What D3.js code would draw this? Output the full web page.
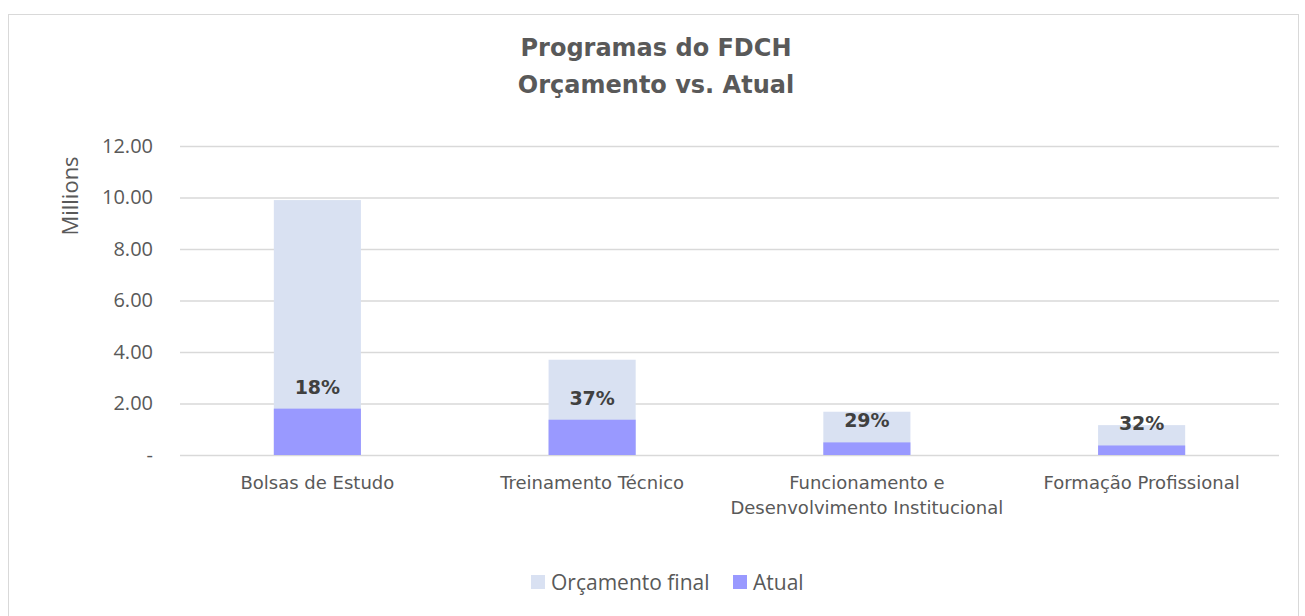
<!DOCTYPE html>
<html>
<head>
<meta charset="utf-8">
<script src="https://cdn.jsdelivr.net/npm/d3@7"></script>
<style>
  body { margin: 0; background: #fff; }
  text { fill: #595959; }
</style>
</head>
<body>
<div class="chart"></div>
<script>
// data (millions)
const categories = ["Bolsas de Estudo", "Treinamento Técnico", "Funcionamento e\nDesenvolvimento Institucional", "Formação Profissional"];
const orcamentoFinal = [9.90, 3.70, 1.68, 1.16];
const atual = [1.80, 1.37, 0.49, 0.37];
const yTicks = [0, 2, 4, 6, 8, 10, 12];
const seriesNames = ["Orçamento final", "Atual"];
const colors = ["#D9E1F2", "#9999FF"];

const W = 1305, H = 616;
const margin = {top: 146, right: 26, bottom: 161, left: 180};
const width = W - margin.left - margin.right,
      height = H - margin.top - margin.bottom;

const svg = d3.select(".chart").append("svg")
    .attr("width", W)
    .attr("height", H);

// chart frame
svg.append("rect")
    .attr("x", 8.5).attr("y", 14.5)
    .attr("width", 1290).attr("height", 610)
    .attr("fill", "none").attr("stroke", "#D9D9D9");

// title
const title = svg.append("text")
    .attr("text-anchor", "middle")
    .style("font-family", "'DejaVu Sans', sans-serif")
    .style("font-weight", "bold")
    .style("font-size", "24px");
title.append("tspan").attr("x", 656).attr("y", 56).text("Programas do FDCH");
title.append("tspan").attr("x", 656).attr("y", 93).text("Orçamento vs. Atual");

const g = svg.append("g")
    .attr("transform", "translate(" + margin.left + "," + margin.top + ")");

const x = d3.scaleBand()
    .domain(categories)
    .range([0, width])
    .paddingInner(0.683)
    .paddingOuter(0.3415);

const y = d3.scaleLinear()
    .domain([0, 12])
    .range([height, 0]);

// gridlines + y labels
const yAxis = g.append("g")
    .call(d3.axisLeft(y).tickValues(yTicks).tickSize(-width)
      .tickFormat(d => d === 0 ? "-" : d3.format(".2f")(d)));
yAxis.select(".domain").remove();
yAxis.selectAll(".tick line").attr("stroke", "#D9D9D9").attr("stroke-width", 1.3);
yAxis.selectAll(".tick text")
    .attr("x", -27)
    .style("font-family", "'Open Sans', 'Liberation Sans', sans-serif")
    .style("font-size", "20px")
    .style("fill", "#595959");

// axis title
svg.append("text")
    .attr("transform", "translate(78,196) rotate(-90)")
    .attr("text-anchor", "middle")
    .style("font-family", "'Open Sans', 'Liberation Sans', sans-serif")
    .style("font-size", "22px")
    .text("Millions");

// bars (overlapping)
g.selectAll(".orc")
    .data(orcamentoFinal)
    .enter()
    .append("rect")
      .attr("x", (d, i) => x(categories[i]))
      .attr("y", d => y(d))
      .attr("width", x.bandwidth())
      .attr("height", d => height - y(d))
      .style("fill", colors[0]);

g.selectAll(".atual")
    .data(atual)
    .enter()
    .append("rect")
      .attr("x", (d, i) => x(categories[i]))
      .attr("y", d => y(d))
      .attr("width", x.bandwidth())
      .attr("height", d => height - y(d))
      .style("fill", colors[1]);

// percentage labels
g.selectAll(".pct")
    .data(atual)
    .enter()
    .append("text")
      .attr("x", (d, i) => x(categories[i]) + x.bandwidth() / 2)
      .attr("y", d => y(d) - 15)
      .attr("text-anchor", "middle")
      .style("font-family", "'DejaVu Sans', sans-serif")
      .style("font-weight", "bold")
      .style("font-size", "19px")
      .style("fill", "#404040")
      .text((d, i) => d3.format(".0%")(d / orcamentoFinal[i]));

// x labels
categories.forEach(function(c) {
  const lines = c.split("\n");
  const t = g.append("text")
      .attr("text-anchor", "middle")
      .style("font-family", "'DejaVu Sans', sans-serif")
      .style("font-size", "18px");
  lines.forEach(function(l, j) {
    t.append("tspan")
      .attr("x", x(c) + x.bandwidth() / 2)
      .attr("y", height + 34 + j * 25)
      .text(l);
  });
});

// legend
const legend = svg.append("g");
const legX = [531, 733];
seriesNames.forEach(function(s, i) {
  legend.append("rect")
      .attr("x", legX[i]).attr("y", 575)
      .attr("width", 14).attr("height", 14)
      .style("fill", colors[i]);
  legend.append("text")
      .attr("x", legX[i] + 20).attr("y", 590)
      .style("font-family", "'Open Sans', 'Liberation Sans', sans-serif")
      .style("font-size", "21px")
      .text(s);
});
</script>
</body>
</html>
